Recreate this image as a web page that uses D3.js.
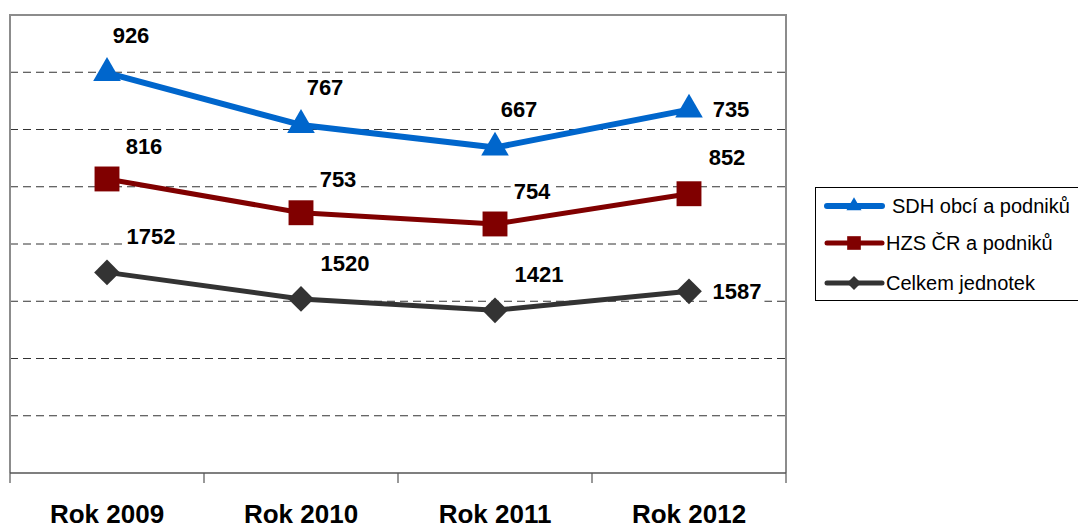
<!DOCTYPE html>
<html>
<head>
<meta charset="utf-8">
<script src="https://cdn.jsdelivr.net/npm/d3@7"></script>
<style>
  body { margin: 0; background: #fff; }
  svg { font-family: "Liberation Sans", Arial, sans-serif; }
</style>
</head>
<body>
<svg id="chart" width="1078" height="528"></svg>
<script>
// data
var years = ["Rok 2009", "Rok 2010", "Rok 2011", "Rok 2012"];
var sdh = [926, 767, 667, 735];
var hzs = [816, 753, 754, 852];
var celkem = [1752, 1520, 1421, 1587];
var seriesNames = ["SDH obcí a podniků", "HZS ČR a podniků", "Celkem jednotek"];
var yTicks = [0, 500, 1000, 1500, 2000, 2500, 3000, 3500, 4000];

var svg = d3.select("#chart");
var plot = { left: 10, right: 786, top: 15, bottom: 473 };

var rows = years.map(function(y, i) {
  return { year: y, celkem: celkem[i], hzs: hzs[i], sdh: sdh[i] };
});

// stacked line chart (Excel style): celkem at bottom, hzs on top, sdh on top
var stack = d3.stack().keys(["celkem", "hzs", "sdh"]);
var layers = stack(rows);

var x = d3.scalePoint().domain(years).range([plot.left, plot.right]).padding(0.5);
var xBand = d3.scaleBand().domain(years).range([plot.left, plot.right]);
var y = d3.scaleLinear().domain([0, 4000]).range([plot.bottom, plot.top]);

// square diamond (rotated square), Excel style
var squareDiamond = {
  draw: function(context, size) {
    var r = Math.sqrt(size / 2);
    context.moveTo(0, -r);
    context.lineTo(r, 0);
    context.lineTo(0, r);
    context.lineTo(-r, 0);
    context.closePath();
  }
};

// grid lines
svg.append("g").selectAll("line")
  .data(yTicks.filter(function(t) { return t > 0 && t < 4000; }))
  .enter().append("line")
    .attr("x1", plot.left).attr("x2", plot.right)
    .attr("y1", function(d) { return y(d); })
    .attr("y2", function(d) { return y(d); })
    .attr("stroke", "#333")
    .attr("stroke-width", 1)
    .attr("stroke-dasharray", "8,5");

// frame
svg.append("path")
  .attr("d", "M" + plot.left + "," + plot.bottom + "V" + plot.top + "H" + plot.right + "V" + plot.bottom)
  .attr("fill", "none")
  .attr("stroke", "#8c8c8c")
  .attr("stroke-width", 2);

// x axis
var xAxis = svg.append("g")
  .attr("transform", "translate(0," + plot.bottom + ")");
xAxis.append("line")
  .attr("x1", plot.left).attr("x2", plot.right)
  .attr("stroke", "#555").attr("stroke-width", 1.5);
xAxis.selectAll(".tick")
  .data(years.concat(["end"]))
  .enter().append("line")
    .attr("x1", function(d, i) { return i < years.length ? xBand(d) : plot.right; })
    .attr("x2", function(d, i) { return i < years.length ? xBand(d) : plot.right; })
    .attr("y1", 0).attr("y2", 10)
    .attr("stroke", "#555").attr("stroke-width", 1.2);
xAxis.selectAll("text")
  .data(years)
  .enter().append("text")
    .attr("x", function(d) { return x(d); })
    .attr("y", 50)
    .attr("text-anchor", "middle")
    .style("font-size", "26px")
    .style("font-weight", "bold")
    .text(function(d) { return d; });

var styles = {
  sdh:    { color: "#0066CC", width: 6, symbol: d3.symbolTriangle, size: 330, name: seriesNames[0],
            dx: 24, dy: -38, lastDx: 42, lastDy: 0 },
  hzs:    { color: "#800000", width: 5, symbol: d3.symbolSquare, size: 620, name: seriesNames[1],
            dx: 37, dy: -33, lastDx: 38, lastDy: -36 },
  celkem: { color: "#333333", width: 5, symbol: squareDiamond, size: 330, name: seriesNames[2],
            dx: 44, dy: -36, lastDx: 48, lastDy: 0 }
};

var line = d3.line()
  .x(function(d) { return x(d.data.year); })
  .y(function(d) { return y(d[1]); });

var labelLayer = [];
layers.forEach(function(layer) {
  var s = styles[layer.key];
  var g = svg.append("g").attr("class", "series " + layer.key);
  g.append("path")
    .datum(layer)
    .attr("d", line)
    .attr("fill", "none")
    .attr("stroke", s.color)
    .attr("stroke-width", s.width)
    .attr("stroke-linejoin", "round");
  g.selectAll(".marker")
    .data(layer)
    .enter().append("path")
      .attr("class", "marker")
      .attr("transform", function(d) { return "translate(" + x(d.data.year) + "," + y(d[1]) + ")"; })
      .attr("d", d3.symbol().type(s.symbol).size(s.size))
      .attr("fill", s.color);
  labelLayer.push(layer);
});

// data labels with white background (hide grid behind them)
labelLayer.forEach(function(layer) {
  var s = styles[layer.key];
  var g = svg.append("g").attr("class", "labels " + layer.key);
  var lab = g.selectAll(".label")
    .data(layer)
    .enter().append("g")
      .attr("class", "label")
      .attr("transform", function(d, i) {
        var last = i === layer.length - 1;
        return "translate(" + (x(d.data.year) + (last ? s.lastDx : s.dx)) + "," +
          (y(d[1]) + (last ? s.lastDy : s.dy)) + ")";
      });
  lab.append("text")
    .attr("dy", "0.35em")
    .attr("text-anchor", "middle")
    .style("font-size", "22px")
    .style("font-weight", "bold")
    .text(function(d) { return d.data[layer.key]; });
  lab.each(function() {
    var gEl = d3.select(this);
    var bb = gEl.select("text").node().getBBox();
    gEl.insert("rect", "text")
      .attr("x", bb.x - 3).attr("y", bb.y + 2)
      .attr("width", bb.width + 6).attr("height", bb.height - 4)
      .attr("fill", "#fff");
  });
});

// legend
var legend = svg.append("g").attr("transform", "translate(815,187)");
legend.append("rect")
  .attr("x", 0.5).attr("y", 0.5)
  .attr("width", 280).attr("height", 113)
  .attr("fill", "#fff").attr("stroke", "#000").attr("stroke-width", 1);
var legendKeys = ["sdh", "hzs", "celkem"];
var legendY = [19, 56, 96];
legendKeys.forEach(function(k, i) {
  var s = styles[k];
  var row = legend.append("g").attr("transform", "translate(0," + legendY[i] + ")");
  row.append("line")
    .attr("x1", 12).attr("x2", 67)
    .attr("stroke", s.color).attr("stroke-width", s.width)
    .attr("stroke-linecap", "round");
  row.append("path")
    .attr("transform", "translate(39,0)")
    .attr("d", d3.symbol().type(s.symbol).size(s.size * 0.3))
    .attr("fill", s.color);
  row.append("text")
    .attr("x", i === 0 ? 77 : 71)
    .attr("y", 0)
    .attr("dy", "0.35em")
    .style("font-size", "20px")
    .text(s.name);
});
</script>
</body>
</html>
